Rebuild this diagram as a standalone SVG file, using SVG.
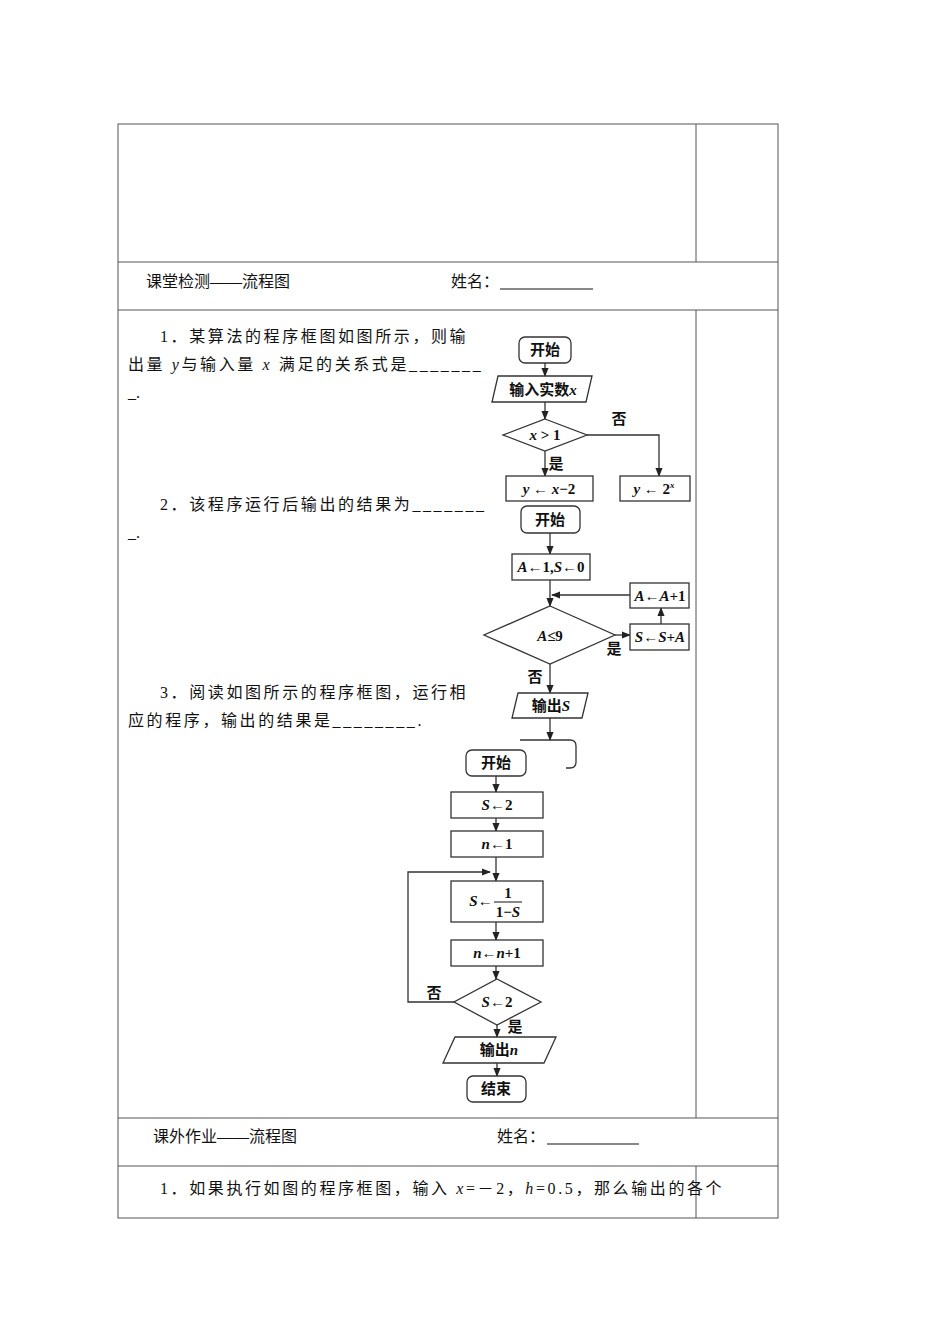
<svg xmlns="http://www.w3.org/2000/svg" width="950" height="1344" viewBox="0 0 950 1344">
<defs>
<marker id="ar" viewBox="0 0 10 10" refX="9" refY="5" markerWidth="7" markerHeight="7" orient="auto"><path d="M0 1 L10 5 L0 9 z" fill="#222"/></marker>
<style>
.t{font-family:"Liberation Serif","Noto Sans CJK SC",serif;font-size:16px;fill:#111}
.q{letter-spacing:2.6px}
.f{font-family:"Liberation Serif","Noto Sans CJK SC",serif;font-size:15px;font-weight:bold;fill:#111;text-anchor:middle}
.i{font-style:italic}
.b{fill:#fff;stroke:#333;stroke-width:1.3}
.c{fill:none;stroke:#333;stroke-width:1.3}
.g{fill:none;stroke:#555;stroke-width:1}
</style>
</defs>
<rect width="950" height="1344" fill="#fff"/>
<g id="table" class="g">
<rect x="118" y="124" width="660" height="1094"/>
<line x1="696" y1="124" x2="696" y2="262"/>
<line x1="696" y1="310" x2="696" y2="1118"/>
<line x1="696" y1="1166" x2="696" y2="1218"/>
<line x1="118" y1="262" x2="778" y2="262"/>
<line x1="118" y1="310" x2="778" y2="310"/>
<line x1="118" y1="1118" x2="778" y2="1118"/>
<line x1="118" y1="1166" x2="778" y2="1166"/>
<line x1="500" y1="289" x2="593" y2="289" stroke="#111"/>
<line x1="547" y1="1144" x2="639" y2="1144" stroke="#111"/>
</g>
<g id="texts">
<text class="t" x="146" y="287">课堂检测——流程图</text>
<text class="t" x="451" y="287">姓名：</text>
<text class="t q" x="160" y="342">1．某算法的程序框图如图所示，则输</text>
<text class="t q" x="128" y="370">出量 <tspan class="i">y</tspan>与输入量 <tspan class="i">x</tspan> 满足的关系式是_______</text>
<text class="t" x="128" y="398">_.</text>
<text class="t q" x="160" y="510">2．该程序运行后输出的结果为_______</text>
<text class="t" x="128" y="538">_.</text>
<text class="t q" x="160" y="698">3．阅读如图所示的程序框图，运行相</text>
<text class="t q" x="128" y="726">应的程序，输出的结果是________.</text>
<text class="t" x="153" y="1142">课外作业——流程图</text>
<text class="t" x="497" y="1142">姓名：</text>
<text class="t q" x="160" y="1194">1．如果执行如图的程序框图，输入 <tspan class="i">x</tspan>=－2，<tspan class="i">h</tspan>=0.5，那么输出的各个</text>
</g>
<g id="connectors" class="c">
<line x1="545" y1="363" x2="545" y2="376" marker-end="url(#ar)"/>
<line x1="545" y1="402" x2="545" y2="419" marker-end="url(#ar)"/>
<polyline points="587,435 659,435 659,476" marker-end="url(#ar)"/>
<line x1="545" y1="451" x2="545" y2="476" marker-end="url(#ar)"/>
<line x1="550" y1="533" x2="550" y2="554" marker-end="url(#ar)"/>
<line x1="550" y1="580" x2="550" y2="606" marker-end="url(#ar)"/>
<line x1="615" y1="635" x2="630" y2="635" marker-end="url(#ar)"/>
<line x1="661" y1="624" x2="661" y2="608" marker-end="url(#ar)"/>
<line x1="630" y1="595" x2="552" y2="595" marker-end="url(#ar)"/>
<line x1="550" y1="664" x2="550" y2="693" marker-end="url(#ar)"/>
<line x1="550" y1="718" x2="550" y2="740" marker-end="url(#ar)"/>
<path d="M520 740 H570 Q576 740 576 746 V762 Q576 768 570 768 H566"/>
<line x1="496" y1="776" x2="496" y2="792" marker-end="url(#ar)"/>
<line x1="496" y1="818" x2="496" y2="831" marker-end="url(#ar)"/>
<line x1="496" y1="857" x2="496" y2="881" marker-end="url(#ar)"/>
<line x1="496" y1="922" x2="496" y2="940" marker-end="url(#ar)"/>
<line x1="496" y1="966" x2="496" y2="979" marker-end="url(#ar)"/>
<polyline points="454,1002 408,1002 408,872 490,872" marker-end="url(#ar)"/>
<line x1="497" y1="1025" x2="497" y2="1037" marker-end="url(#ar)"/>
<line x1="497" y1="1063" x2="497" y2="1076" marker-end="url(#ar)"/>
</g>
<g id="labels">
<text class="f" x="619" y="424" font-weight="normal">否</text>
<text class="f" x="556" y="469">是</text>
<text class="f" x="614" y="654">是</text>
<text class="f" x="535" y="682">否</text>
<text class="f" x="434" y="998" font-weight="normal">否</text>
<text class="f" x="515" y="1032">是</text>
</g>
<g id="n1"><rect class="b" x="519" y="337" width="52" height="26" rx="6"/><text class="f" x="545" y="355">开始</text></g>
<g id="n2"><polygon class="b" points="498,376 592,376 586,402 492,402"/><text class="f" x="543" y="395">输入实数<tspan class="i">x</tspan></text></g>
<g id="n3"><polygon class="b" points="545,419 587,435 545,451 503,435"/><text class="f" x="545" y="440"><tspan class="i">x</tspan> &gt; 1</text></g>
<g id="n4"><rect class="b" x="506" y="476" width="87" height="25"/><text class="f" x="549" y="494"><tspan class="i">y</tspan> ← <tspan class="i">x</tspan>−2</text></g>
<g id="n5"><rect class="b" x="620" y="476" width="70" height="25"/><text class="f" x="654" y="494"><tspan class="i">y</tspan> ← 2<tspan class="i" font-size="9" dy="-6">x</tspan></text></g>
<g id="n6"><rect class="b" x="521" y="506" width="59" height="27" rx="6"/><text class="f" x="550" y="525">开始</text></g>
<g id="n7"><rect class="b" x="512" y="554" width="78" height="26"/><text class="f" x="551" y="572"><tspan class="i">A</tspan>←1,<tspan class="i">S</tspan>←0</text></g>
<g id="n8"><polygon class="b" points="550,606 615,635 550,664 484,635"/><text class="f" x="550" y="641" font-size="17"><tspan class="i">A</tspan>≤9</text></g>
<g id="n9"><rect class="b" x="630" y="624" width="59" height="26"/><text class="f" x="660" y="642"><tspan class="i">S</tspan>←<tspan class="i">S</tspan>+<tspan class="i">A</tspan></text></g>
<g id="n10"><rect class="b" x="630" y="583" width="59" height="25"/><text class="f" x="660" y="601"><tspan class="i">A</tspan>←<tspan class="i">A</tspan>+1</text></g>
<g id="n11"><polygon class="b" points="518,693 588,693 582,718 512,718"/><text class="f" x="551" y="711">输出<tspan class="i">S</tspan></text></g>
<g id="n12"><rect class="b" x="466" y="750" width="60" height="26" rx="6"/><text class="f" x="496" y="768">开始</text></g>
<g id="n13"><rect class="b" x="451" y="792" width="92" height="26"/><text class="f" x="497" y="810"><tspan class="i">S</tspan>←2</text></g>
<g id="n14"><rect class="b" x="451" y="831" width="92" height="26"/><text class="f" x="497" y="849"><tspan class="i">n</tspan>←1</text></g>
<g id="n15"><rect class="b" x="451" y="881" width="92" height="41"/><text class="f" x="481" y="906"><tspan class="i">S</tspan>←</text><text class="f" x="508" y="898">1</text><line x1="494" y1="902" x2="522" y2="902" stroke="#111"/><text class="f" x="508" y="917">1−<tspan class="i">S</tspan></text></g>
<g id="n16"><rect class="b" x="451" y="940" width="92" height="26"/><text class="f" x="497" y="958"><tspan class="i">n</tspan>←<tspan class="i">n</tspan>+1</text></g>
<g id="n17"><polygon class="b" points="497,979 541,1002 497,1025 454,1002"/><text class="f" x="497" y="1007"><tspan class="i">S</tspan>←2</text></g>
<g id="n18"><polygon class="b" points="455,1037 556,1037 544,1063 443,1063"/><text class="f" x="499" y="1055">输出<tspan class="i">n</tspan></text></g>
<g id="n19"><rect class="b" x="467" y="1076" width="59" height="26" rx="6"/><text class="f" x="496" y="1094">结束</text></g>
</svg>
